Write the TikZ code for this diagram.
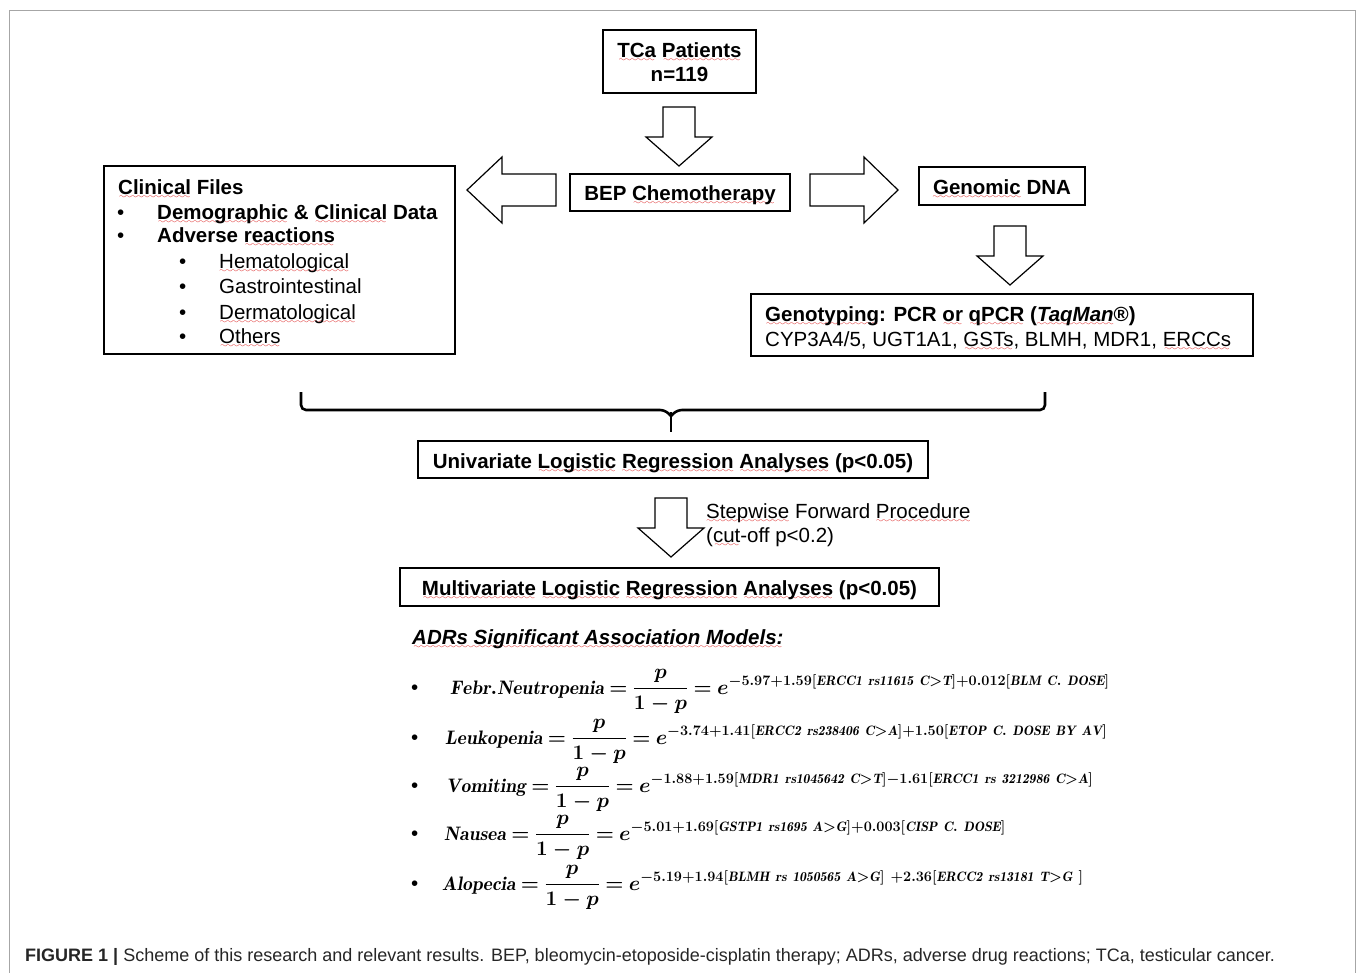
\documentclass[tikz,border=0pt]{standalone}
\usepackage{fontspec}
\usepackage{amsmath}
\newfontfamily\arial{Liberation Sans}
\font\rwfont=lasy6 at 7pt
\newsavebox\rwbox
\newcommand\rw[1]{\sbox\rwbox{#1}\rlap{\lower4pt\hbox to\wd\rwbox{\color{red!85!black}\cleaders\hbox{\rwfont\char58}\hfill}}\usebox\rwbox}
\newcommand\bfont{\arial\fontsize{20.5}{24}\selectfont}
\newcommand\eqfont{\fontsize{19.5}{24}\selectfont\boldmath}
\newcommand\eq{\mathrel{\mkern-1mu=\mkern-1mu}}
\begin{document}
\begin{tikzpicture}[x=1pt,y=-1pt,
  boxn/.style={draw,line width=1.3pt,inner sep=0pt,fill=white},
  bt/.style={inner sep=0pt,font=\bfont\bfseries,anchor=base},
  lt/.style={inner sep=0pt,font=\bfont,anchor=base west},
  lbt/.style={inner sep=0pt,font=\bfont\bfseries,anchor=base west},
  eqn/.style={inner sep=0pt,font=\eqfont,anchor=base west},
  blk/.style={draw,line width=1.2pt,fill=white,line join=miter},
  brace/.style={draw,line width=2.6pt,rounded corners=5pt}]
\useasboundingbox (0,0) rectangle (1357,972);
\fill[white] (0,0) rectangle (1357,972);
% outer frame
\draw[gray!70,line width=1pt] (9,980) -- (9,10) -- (1355,10) -- (1355,980);

% TCa box
\node[boxn,minimum width=153pt,minimum height=63pt] (tca) at (679.5,61.5) {};
\node[bt] (tca1) at (679.5,57) {\rw{TCa} \rw{Patients}};
\node[bt] (tca2) at (679.5,81) {n=119};

% down arrow 1
\draw[blk] (663,107) -- (695,107) -- (695,137) -- (712,137) -- (679,166) -- (646,137) -- (663,137) -- cycle;

% BEP box
\node[boxn,minimum width=220pt,minimum height=37pt] (bep) at (680,192.5) {};
\node[bt] (beptxt) at (680,200) {BEP \rw{Chemotherapy}};

% left arrow
\draw[blk] (556,174) -- (556,206) -- (502,206) -- (502,223) -- (467,190) -- (502,157) -- (502,174) -- cycle;
% right arrow
\draw[blk] (810,174) -- (810,206) -- (864,206) -- (864,223) -- (898,190) -- (864,157) -- (864,174) -- cycle;

% Clinical files box
\node[boxn,minimum width=351pt,minimum height=188pt] (clin) at (279.5,260) {};
\node[lbt] (clin0) at (118,194) {\rw{Clinical} Files};
\node[lt] (b1) at (117,219) {•};
\node[lbt] (clin1) at (157,219) {\rw{Demographic} \& \rw{Clinical} Data};
\node[lt] (b2) at (117,242) {•};
\node[lbt] (clin2) at (157,242) {Adverse \rw{reactions}};
\node[lt] (b3) at (179,268) {•};
\node[lt] (clin3) at (219,268) {\rw{Hematological}};
\node[lt] (b4) at (179,293) {•};
\node[lt] (clin4) at (219,293) {Gastrointestinal};
\node[lt] (b5) at (179,319) {•};
\node[lt] (clin5) at (219,319) {\rw{Dermatological}};
\node[lt] (b6) at (179,343) {•};
\node[lt] (clin6) at (219,343) {\rw{Others}};

% Genomic DNA
\node[boxn,minimum width=166pt,minimum height=38pt] (dna) at (1002,186) {};
\node[bt] (dnatxt) at (1002,194) {\rw{Genomic} DNA};

% down arrow 2
\draw[blk] (994,226) -- (1026,226) -- (1026,256) -- (1043,256) -- (1010,285) -- (977,256) -- (994,256) -- cycle;

% Genotyping box
\node[boxn,minimum width=502pt,minimum height=62pt] (geno) at (1002,325) {};
\node[lbt] (geno1) at (765,321) {\rw{Genotyping}: PCR \rw{or} \rw{qPCR} (\rw{\itshape TaqMan}®)};
\node[lt] (geno2) at (765,346) {CYP3A4/5, UGT1A1, \rw{GSTs}, BLMH, MDR1, \rw{ERCCs}};

% brace
\coordinate (brL) at (301,392);
\coordinate (brR) at (1045,392);
\coordinate (brM) at (671,432);
\draw[brace] (brL) -- (301,410) -- (665,410) -- (671,416);
\draw[brace] (brR) -- (1045,410) -- (677,410) -- (671,416);
\draw[line width=2.6pt] (671,412) -- (brM);

% Univariate
\node[boxn,minimum width=510pt,minimum height=37pt] (uni) at (673,459.5) {};
\node[bt] (unitxt) at (673,468) {Univariate \rw{Logistic} \rw{Regression} \rw{Analyses} (p<0.05)};

% down arrow 3
\draw[blk] (655,498) -- (687,498) -- (687,528) -- (704,528) -- (671,557) -- (638,528) -- (655,528) -- cycle;
\node[lt] (step1) at (706,518) {\rw{Stepwise} Forward \rw{Procedure}};
\node[lt] (step2) at (706,542) {(\rw{cut}-off p<0.2)};

% Multivariate
\node[boxn,minimum width=539pt,minimum height=38pt] (multi) at (669.5,587) {};
\node[bt] (multitxt) at (669.5,595) {\rw{Multivariate} \rw{Logistic} \rw{Regression} \rw{Analyses} (p<0.05)};

% ADRs
\node[lbt,font=\bfont\bfseries\itshape] (adr) at (412,644) {\rw{ADRs Significant Association Models:}};

% equations
\node[lt] (eb1) at (411,694) {•};
\node[eqn] (eq1) at (450,694) {$\mathit{Febr.}\mathit{Neutropenia}\eq\displaystyle\frac{p}{1-p}\eq e^{-5.97+1.59[\mathit{ERCC1\ rs11615\ C{>}T}]+0.012[\mathit{BLM\ C.\ DOSE}]}$};
\node[lt] (eb2) at (411,744) {•};
\node[eqn] (eq2) at (445,744) {$\mathit{Leukopenia}\eq\displaystyle\frac{p}{1-p}\eq e^{-3.74+1.41[\mathit{ERCC2\ rs238406\ C{>}A}]+1.50[\mathit{ETOP\ C.\ DOSE\ BY\ AV}]}$};
\node[lt] (eb3) at (411,792) {•};
\node[eqn] (eq3) at (446,792) {$\mathit{Vomiting}\eq\displaystyle\frac{p}{1-p}\eq e^{-1.88+1.59[\mathit{MDR1\ rs1045642\ C{>}T}]-1.61[\mathit{ERCC1\ rs\ 3212986\ C{>}A}]}$};
\node[lt] (eb4) at (411,840) {•};
\node[eqn] (eq4) at (444,840) {$\mathit{Nausea}\eq\displaystyle\frac{p}{1-p}\eq e^{-5.01+1.69[\mathit{GSTP1\ rs1695\ A{>}G}]+0.003[\mathit{CISP\ C.\ DOSE}]}$};
\node[lt] (eb5) at (411,890) {•};
\node[eqn] (eq5) at (442,890) {$\mathit{Alopecia}\eq\displaystyle\frac{p}{1-p}\eq e^{-5.19+1.94[\mathit{BLMH\ rs\ 1050565\ A{>}G}]\ +2.36[\mathit{ERCC2\ rs13181\ T{>}G}\ ]}$};

% caption
\node[inner sep=0pt,anchor=base west,font=\arial\fontsize{18}{21}\selectfont,text=black!85] (cap) at (25,961) {\textbf{FIGURE 1 |} Scheme of this research and relevant results. BEP, bleomycin-etoposide-cisplatin therapy; ADRs, adverse drug reactions; TCa, testicular cancer.};
\end{tikzpicture}
\end{document}
